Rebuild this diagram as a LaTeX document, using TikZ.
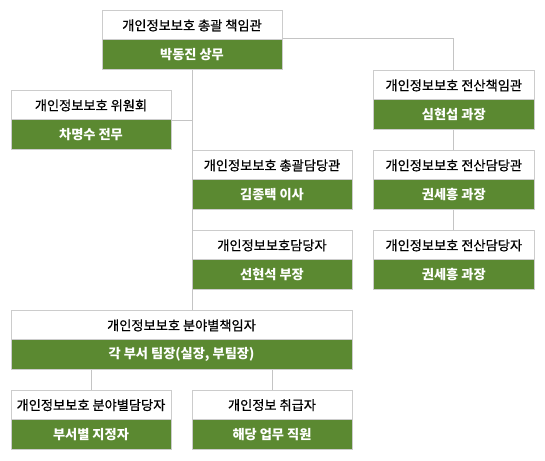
\documentclass[tikz,border=0pt]{standalone}
\usepackage{fontspec}
\setmainfont{Noto Sans CJK KR}
\newfontfamily\hdrfont[FakeBold=0.6]{Noto Sans CJK KR}
\definecolor{boxgreen}{RGB}{91,137,49}
\definecolor{boxline}{RGB}{204,204,204}
\definecolor{conline}{RGB}{196,196,196}
\tikzset{
  hdr/.style={rectangle, draw=boxline, line width=1pt, fill=white, inner sep=0pt,
    minimum height=29.3pt, text=black, font=\hdrfont\fontsize{13.2}{15}\selectfont},
  bdy/.style={rectangle, draw=boxline, line width=1pt, fill=boxgreen, inner sep=0pt,
    minimum height=29.3pt, text=white, font=\fontsize{13.2}{15}\selectfont\bfseries},
  conn/.style={draw=conline, line width=1pt}
}
\begin{document}
\begin{tikzpicture}[x=1pt,y=-1pt]
\useasboundingbox (0,0) rectangle (545,460);
% top
\node[hdr, minimum width=180pt] (toph) at (192,25.4) {개인정보보호 총괄 책임관};
\node[bdy, minimum width=180pt] (topb) at (192,54.6) {박동진 상무};
% committee
\node[hdr, minimum width=160pt] (cmh) at (91,105.4) {개인정보보호 위원회};
\node[bdy, minimum width=160pt] (cmb) at (91,134.6) {차명수 전무};
% middle column
\node[hdr, minimum width=160pt] (m1h) at (272,165.4) {개인정보보호 총괄담당관};
\node[bdy, minimum width=160pt] (m1b) at (272,194.6) {김종택 이사};
\node[hdr, minimum width=160pt] (m2h) at (272,245.4) {개인정보보호담당자};
\node[bdy, minimum width=160pt] (m2b) at (272,274.6) {선현석 부장};
% right column
\node[hdr, minimum width=161pt] (r1h) at (453.8,85.4) {개인정보보호 전산책임관};
\node[bdy, minimum width=161pt] (r1b) at (453.8,114.6) {심현섭 과장};
\node[hdr, minimum width=161pt] (r2h) at (453.8,165.4) {개인정보보호 전산담당관};
\node[bdy, minimum width=161pt] (r2b) at (453.8,194.6) {권세흥 과장};
\node[hdr, minimum width=161pt] (r3h) at (453.8,245.4) {개인정보보호 전산담당자};
\node[bdy, minimum width=161pt] (r3b) at (453.8,274.6) {권세흥 과장};
% big box
\node[hdr, minimum width=341pt] (bgh) at (181.5,325.4) {개인정보보호 분야별책임자};
\node[bdy, minimum width=341pt] (bgb) at (181.5,354.6) {각 부서 팀장(실장, 부팀장)};
% bottom
\node[hdr, minimum width=160pt] (blh) at (91,405.1) {개인정보보호 분야별담당자};
\node[bdy, minimum width=160pt] (blb) at (91,434.4) {부서별 지정자};
\node[hdr, minimum width=160pt] (brh) at (272,405.1) {개인정보 취급자};
\node[bdy, minimum width=160pt] (brb) at (272,434.4) {해당 업무 직원};
% connectors
\draw[conn] ([yshift=2pt]toph.south east) -| (r1h.north);
\draw[conn] (topb.south) -- (topb.south |- bgh.north);
\draw[conn] (cmh.south east) -- (cmh.south east -| topb.south);
\draw[conn] (r1b.south) -- (r2h.north);
\draw[conn] (r2b.south) -- (r3h.north);
\draw[conn] (blh.north) -- (blh.north |- bgb.south);
\draw[conn] (brh.north) -- (brh.north |- bgb.south);
\end{tikzpicture}
\end{document}
